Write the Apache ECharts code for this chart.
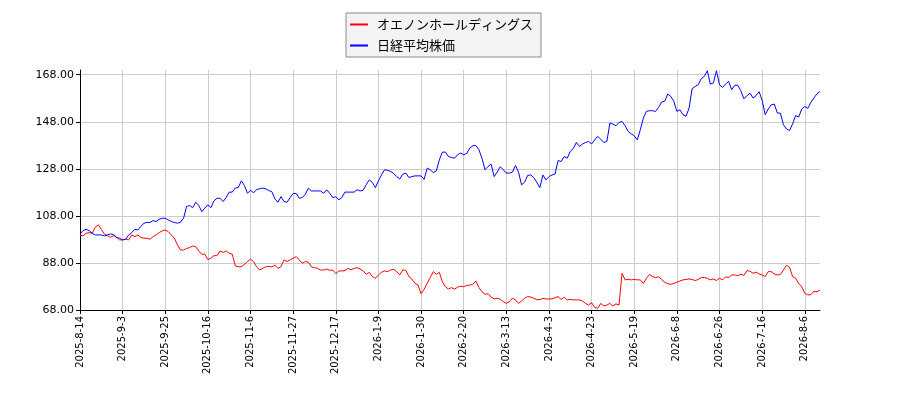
<!DOCTYPE html>
<html>
<head>
<meta charset="utf-8">
<script src="https://cdn.jsdelivr.net/npm/echarts@6/dist/echarts.min.js"></script>
<style>
  html, body { margin: 0; padding: 0; background: #fff; }
  #main { width: 900px; height: 400px; }
</style>
</head>
<body>
<div id="main"></div>
<script>
// 銘柄名
var seriesNames = ['オエノンホールディングス', '日経平均株価'];

// 営業日 (土日・祝日・年末年始を除く)
var firstDay = [2025, 8, 14];
var dayCount = 244;
var holidays = ['2025-9-15', '2025-9-23', '2025-10-13', '2025-11-3', '2025-11-24', '2025-12-31',
  '2026-1-1', '2026-1-2', '2026-1-12', '2026-2-11', '2026-2-23', '2026-3-20', '2026-4-29',
  '2026-5-4', '2026-5-5', '2026-5-6', '2026-7-20', '2026-8-11'];

// オエノンホールディングス (正規化値)
var oenonValues = [
  99.8, 99.5, 100.6, 100.9, 100.6, 103.2, 104.2, 102.3, 100.3, 99.6, 98.9, 99.6, 98.9, 97.8, 97.8, 98.1,
  97.8, 99.9, 99.2, 99.9, 98.8, 98.5, 98.5, 98.1, 99.2, 99.9, 100.9, 101.6, 102, 101.3, 99.9, 98.5,
  95.7, 93.5, 93.5, 94.2, 94.5, 95.2, 94.9, 93.1, 91.7, 91.7, 89.4, 90, 91.1, 91.1, 93.1, 92.5,
  93.1, 92.1, 91.7, 86.7, 86.4, 86.4, 87.4, 88.6, 89.6, 88.6, 86.4, 85, 85.7, 86.4, 86.5,
  86.3, 87.1, 85.7, 86.4, 89.3, 88.6, 89.3, 90, 90.7, 89.3, 87.9, 88.6, 88.3, 86.3, 86, 85.7,
  85, 85, 85.4, 84.9, 85, 83.5, 84.6, 84.6, 84.7, 85.7, 85.1, 85.7, 86, 85.4, 84.6, 83.2,
  84, 82.2, 81.5, 82.9, 84, 84.6, 84.3, 85, 85.3, 84.3, 82.9, 85, 84.9, 82.2, 81.1, 79.3,
  78.6, 74.9, 76.8, 79.3, 81.8, 84.3, 83.2, 84, 80, 77.9, 76.9, 77.5, 76.9, 77.7, 78.1,
  77.9, 78.4, 78.6, 78.9, 80.3, 77.5, 75.8, 74.7, 74.9, 73.5, 72.7, 73, 72.6, 71.5, 70.8, 71.5,
  73, 72.3, 70.8, 71.8, 73, 73.7, 73.5, 73, 72.4, 72.4, 73, 72.7, 72.7, 72.7, 73.2,
  73.7, 72.5, 73.4, 72.3, 72.5, 72.3, 72.3, 72.3, 71.8, 70.8, 70.1, 71.1, 69.1, 68.7, 70.8, 69.7,
  70.1, 70.8, 69.7, 70.6, 70.1, 83.6, 80.8, 81, 80.8, 81, 80.8, 80.8, 79.3, 81.5, 83.1,
  82.2, 81.8, 82.1, 81, 79.8, 79.2, 78.9, 79.3, 79.8, 80.3, 80.8, 81, 81.2, 81, 80.5, 81,
  81.8, 81.8, 81.5, 80.8, 81.2, 80.5, 81.5, 80.8, 82.1, 81.8, 82.9, 82.9, 82.6, 83.2, 82.7, 84.7,
  84.5, 83.6, 84.1, 83.3, 82.9, 82.2, 84.3, 84.3, 83.3, 82.9, 83.1, 85, 87, 86.2, 82.2, 81.5,
  79.3, 77.9, 75.1, 74.4, 74.5, 76, 75.7, 76.5
];

// 日経平均株価 (正規化値)
var nikkeiValues = [
  100.3, 101.7, 102.3, 101.7, 100.6, 99.9, 99.9, 99.9, 99.5, 99.9, 100.3, 100.1, 98.9, 98.5, 97.8, 98.1,
  99.9, 100.9, 102.3, 102, 103.5, 104.9, 105.2, 105.2, 106, 105.6, 106.6, 107, 107, 106.3, 105.6, 105.2,
  104.9, 105.3, 107, 112, 112.4, 111.5, 113.8, 112.4, 109.8, 111.3, 112.7, 111.5, 114.4, 115.5, 115.5, 114.1,
  115.8, 118.1, 118.1, 119.8, 120.1, 122.9, 120.9, 117.6, 118.9, 117.8, 119.2, 119.5, 119.8, 119.5, 118.8,
  118.3, 115.2, 113.8, 116.2, 114.1, 113.8, 115.8, 117.5, 117.5, 115.5, 115.8, 117.2, 119.8, 118.6, 118.6, 118.6,
  118.6, 117.6, 119.1, 117.6, 115.8, 116.1, 114.8, 115.8, 118.1, 118.1, 118.1, 118.1, 119.1, 118.6, 118.9, 121.3,
  123.3, 122.2, 120, 122.9, 125.4, 127.6, 127.4, 126.9, 126, 124.7, 123.7, 125.7, 126.2, 124.3, 124.7, 125,
  125, 125, 123.5, 128.3, 127.6, 126.4, 127.1, 131.8, 135.1, 135.1, 133.2, 132.8, 132.5, 134, 134.7,
  134, 134.5, 136.8, 137.8, 137.9, 136.1, 132.5, 127.6, 129, 130, 124.7, 126.6, 128.9, 127.6, 126.2, 126.2,
  126.6, 129.4, 126.6, 121.2, 122.3, 125.2, 125.4, 124.3, 122.3, 120, 125.4, 123.3, 124.7, 125.4, 125.8,
  131.5, 131.1, 133.2, 132.5, 135.4, 136.6, 139.2, 137.5, 138.5, 139.2, 139.6, 138.6, 140.3, 141.8, 140.6, 139.2,
  139.6, 147.4, 147, 146.3, 147.7, 148.1, 146.3, 143.9, 142.9, 142, 140.3, 144.6, 149.6, 152.4, 152.7,
  152.7, 152.4, 154.1, 156.4, 156.7, 159.8, 158.8, 156.7, 152.4, 153.1, 151, 150.3, 153.8, 162, 163, 163.7,
  166.3, 167.3, 169.7, 164, 164.5, 169.7, 163.7, 162.6, 164, 165.2, 161.6, 163.5, 163.5, 161.2, 157.8, 159,
  160.2, 158.1, 159.1, 160.8, 157.1, 151, 153.4, 155.2, 155.5, 151.7, 151.7, 146.7, 144.9, 144.3, 147.1, 150.6,
  150, 153.4, 154.5, 153.7, 156.2, 158.1, 159.9, 160.9
];

// 縦軸目盛り
var yMin = 68;
var yMax = 170;
var yStep = 20;
var xLabelStep = 14;

function tradingDays(start, n, offDays) {
  var out = [];
  var d = new Date(Date.UTC(start[0], start[1] - 1, start[2]));
  while (out.length < n) {
    var wd = d.getUTCDay();
    var s = d.getUTCFullYear() + '-' + (d.getUTCMonth() + 1) + '-' + d.getUTCDate();
    if (wd !== 0 && wd !== 6 && offDays.indexOf(s) < 0) out.push(s);
    d.setUTCDate(d.getUTCDate() + 1);
  }
  return out;
}
var categories = tradingDays(firstDay, dayCount, holidays);

var gridColors = [];
for (var v = yMin; v <= yMax; v += yStep) gridColors.push('#cccccc');
gridColors.push('rgba(0,0,0,0)'); // 上端には線を引かない

var myChart = echarts.init(document.getElementById('main'));
var option = {
  animation: false,
  color: ['#ff0000', '#0000ff'],
  grid: { left: 80, right: 80, top: 70, bottom: 90, containLabel: false },
  legend: {
    orient: 'vertical',
    left: 346,
    top: 13,
    backgroundColor: '#f3f3f3',
    borderColor: '#8a8a8a',
    borderWidth: 1,
    borderRadius: 0,
    padding: [5, 8, 5, 4],
    itemGap: 8,
    itemWidth: 18,
    itemHeight: 2,
    icon: 'rect',
    data: seriesNames,
    textStyle: { fontFamily: 'Noto Sans CJK JP', fontSize: 13, color: '#000', padding: [0, 0, 0, 4] }
  },
  xAxis: {
    type: 'category',
    data: categories,
    boundaryGap: false,
    axisLine: { lineStyle: { color: '#000', width: 1 } },
    axisTick: { show: true, interval: xLabelStep - 1, length: 4, lineStyle: { color: '#000' } },
    axisLabel: {
      interval: xLabelStep - 1,
      rotate: 90,
      fontFamily: 'DejaVu Sans',
      fontSize: 10,
      color: '#000',
      margin: 6
    },
    splitLine: { show: true, interval: xLabelStep - 1, lineStyle: { color: '#cccccc', width: 1 } }
  },
  yAxis: {
    type: 'value',
    min: yMin,
    max: yMax,
    interval: yStep,
    axisLine: { show: true, lineStyle: { color: '#000', width: 1 } },
    axisTick: { show: true, length: 4, lineStyle: { color: '#000' } },
    axisLabel: {
      showMaxLabel: false,
      fontFamily: 'DejaVu Sans',
      fontSize: 11,
      color: '#000',
      margin: 6,
      formatter: function (val) { return val.toFixed(2); }
    },
    splitLine: { show: true, lineStyle: { color: gridColors, width: 1 } }
  },
  series: [
    {
      name: seriesNames[0],
      type: 'line',
      data: oenonValues,
      showSymbol: false,
      symbol: 'none',
      lineStyle: { width: 1, color: '#ff0000' }
    },
    {
      name: seriesNames[1],
      type: 'line',
      data: nikkeiValues,
      showSymbol: false,
      symbol: 'none',
      lineStyle: { width: 1, color: '#0000ff' }
    }
  ]
};
myChart.setOption(option);
</script>
</body>
</html>
